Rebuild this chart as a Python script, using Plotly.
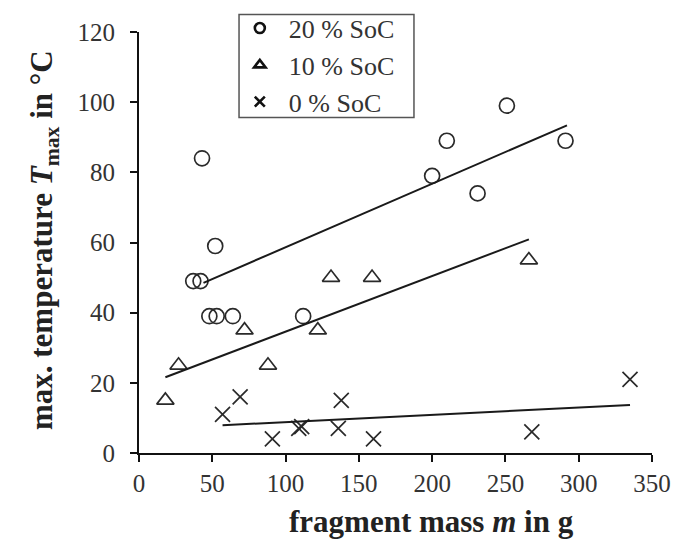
import plotly.graph_objects as go

# 20 % SoC
soc20_m = [37, 42, 43, 52, 48, 53, 64, 112, 200, 210, 231, 251, 291]
soc20_T = [49, 49, 84, 59, 39, 39, 39, 39, 79, 89, 74, 99, 89]
# 10 % SoC
soc10_m = [18, 27, 72, 88, 122, 131, 159, 266]
soc10_T = [15, 25, 35, 25, 35, 50, 50, 55]
# 0 % SoC
soc0_m = [57, 69, 91, 109, 111, 136, 138, 160, 268, 335]
soc0_T = [11, 16, 4, 7, 7.5, 7, 15, 4, 6, 21]

# trend lines (end points)
fit20_m = [44, 292]
fit20_T = [48.5, 93.4]
fit10_m = [18, 266]
fit10_T = [21.6, 60.9]
fit0_m = [57, 335]
fit0_T = [7.9, 13.7]

labels = ["20 % SoC", "10 % SoC", "0 % SoC"]
x_ticks = [0, 50, 100, 150, 200, 250, 300, 350]
y_ticks = [0, 20, 40, 60, 80, 100, 120]
x_title = "<b>fragment mass <i>m</i> in g</b>"
y_title = "<b>max. temperature <i>T</i><sub>max</sub> in °C</b>"

MK = "#2a2a2a"
LN = "#1a1a1a"
FONT = "Liberation Serif"

fig = go.Figure()

series = [
    (soc20_m, soc20_T, "circle-open", 15),
    (soc10_m, soc10_T, "triangle-up-open", 15),
    (soc0_m, soc0_T, "x-thin-open", 15),
]
for (xs, ys, sym, sz) in series:
    fig.add_trace(go.Scatter(x=xs, y=ys, mode="markers", showlegend=False,
                             marker=dict(symbol=sym, size=sz, color=MK,
                                         line=dict(color=MK, width=1.7))))

for xs, ys in [(fit20_m, fit20_T), (fit10_m, fit10_T), (fit0_m, fit0_T)]:
    fig.add_trace(go.Scatter(x=xs, y=ys, mode="lines", showlegend=False,
                             line=dict(color=LN, width=2)))

leg_syms = ["circle-open", "triangle-up-open", "x-thin-open"]
for i, (lab, sym) in enumerate(zip(labels, leg_syms)):
    fig.add_trace(go.Scatter(x=[None], y=[None], mode="markers", name=lab,
                             legendgroup=f"g{i}",
                             marker=dict(symbol=sym, size=10, color="#111",
                                         line=dict(color="#111", width=2.6))))

axis_common = dict(showgrid=False, zeroline=False, showline=True,
                   linecolor="#111", linewidth=2, ticks="outside",
                   ticklen=7, tickwidth=2, tickcolor="#111",
                   tickfont=dict(family=FONT, size=25, color="#333"))

fig.update_layout(
    width=692, height=548,
    margin=dict(l=131, r=48, t=23.5, b=102.7, autoexpand=False),
    paper_bgcolor="white", plot_bgcolor="white",
    xaxis=dict(range=[0, 350], tickvals=x_ticks, ticklabelstandoff=0,
               **axis_common),
    yaxis=dict(range=[0, 120], tickvals=y_ticks, ticklabelstandoff=10,
               **axis_common),
    legend=dict(x=0.179, y=1.065, xanchor="left", yanchor="top",
                borderwidth=0, bgcolor="rgba(0,0,0,0)",
                font=dict(family=FONT, size=26, color="#333"),
                itemwidth=48,
                tracegroupgap=0, traceorder="grouped"),
    shapes=[dict(type="rect", xref="paper", yref="paper",
                 x0=0.195, x1=0.536, y0=0.797, y1=1.0415,
                 line=dict(color="#555", width=1.5), fillcolor="rgba(0,0,0,0)",
                 layer="above")],
    annotations=[
        dict(text=x_title, xref="paper", yref="paper", x=0.571, y=-0.163,
             xanchor="center", yanchor="middle", showarrow=False,
             font=dict(family=FONT, size=31, color="#222")),
        dict(text=y_title, xref="paper", yref="paper", x=-0.185, y=0.506,
             xanchor="center", yanchor="middle", showarrow=False, textangle=-90,
             font=dict(family=FONT, size=31, color="#222")),
    ],
)

fig.write_html("out.html")
